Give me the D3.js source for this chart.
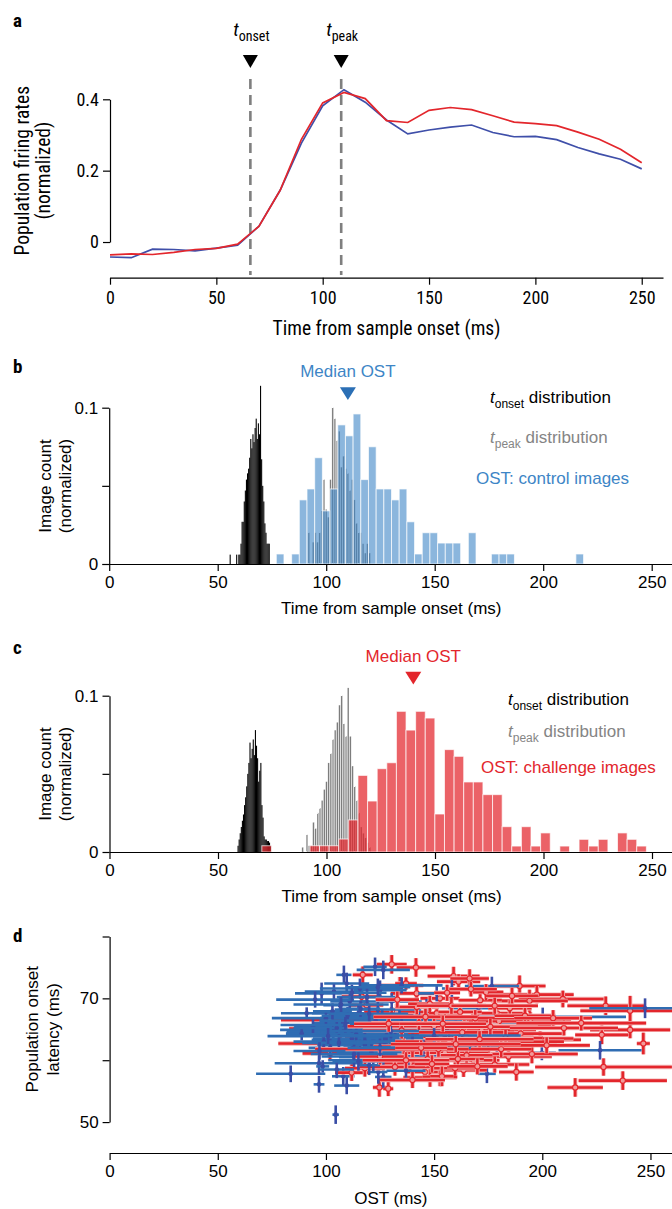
<!DOCTYPE html>
<html>
<head>
<meta charset="utf-8">
<script src="https://cdn.jsdelivr.net/npm/d3@7"></script>
<style>
  body { margin: 0; background: #fff; }
  svg { display: block; }
</style>
</head>
<body>
<svg width="672" height="1209"></svg>
<script>
// ---- panel a: population firing rates ----
const rateTimes = [0, 10, 20, 30, 40, 50, 60, 70, 80, 90, 100, 110, 120, 130, 140, 150, 160, 170, 180, 190, 200, 210, 220, 230, 240, 250];
const rateControl = [-0.042, -0.044, -0.020, -0.021, -0.025, -0.017, -0.009, 0.044, 0.145, 0.277, 0.382, 0.427, 0.392, 0.342, 0.303, 0.314, 0.322, 0.328, 0.307, 0.295, 0.296, 0.287, 0.265, 0.247, 0.232, 0.205];
const rateChallenge = [-0.036, -0.033, -0.035, -0.029, -0.021, -0.018, -0.006, 0.044, 0.145, 0.288, 0.390, 0.419, 0.402, 0.340, 0.335, 0.369, 0.377, 0.371, 0.354, 0.336, 0.332, 0.326, 0.308, 0.288, 0.260, 0.222];
const tOnset = 66;
const tPeak = 108.7;
const xTicks = [0, 50, 100, 150, 200, 250];

// ---- panel b: control images ----
const onsetStartB = 55, onsetWidth = 0.5;
const onsetB = [0, 0.006, 0, 0, 0, 0, 0, 0.006, 0, 0.006, 0.006, 0.013, 0.027, 0.027, 0.040, 0.047, 0.054, 0.058, 0.061, 0.068,
  0.080, 0.074, 0.083, 0.078, 0.087, 0.093, 0.080, 0.090, 0.083, 0.114, 0.067, 0.050, 0.040, 0.026, 0.020, 0.013, 0.013, 0.013];
const peakTimesB = [91, 92, 93, 94, 95, 96, 97, 98, 99, 100, 101, 102, 103, 104, 105, 106, 107, 108, 109, 110, 111, 112, 113, 114, 115, 116, 117, 118, 119, 120];
const peakB = [0, 0.020, 0, 0.014, 0.020, 0.014, 0.020, 0.034, 0.054, 0.035, 0.030, 0.054, 0.100, 0.093, 0.079, 0.085, 0.062, 0.069, 0.061, 0.058,
  0.047, 0.054, 0.041, 0.026, 0.020, 0.020, 0.013, 0.007, 0.013, 0.007];
const ostStartB = 77, ostWidthB = 3.54;
const ostControl = [0.0064, 0, 0.0064, 0.041, 0.048, 0.068, 0.034, 0.048, 0.089, 0.082, 0.096, 0.054, 0.075, 0.048, 0.048, 0.041, 0.048, 0.027, 0.0064, 0.020,
  0.020, 0.0134, 0.0134, 0.0134, 0, 0.020, 0, 0, 0.0064, 0.0064, 0.0064, 0, 0, 0, 0, 0, 0, 0, 0, 0.0064];
const medianControl = 110;

// ---- panel c: challenge images ----
const onsetStartC = 59;
const onsetC = [0.004, 0.008, 0.012, 0.016, 0.020, 0.024, 0.030, 0.035, 0.042, 0.050, 0.057, 0.070, 0.060, 0.066, 0.072, 0.062,
  0.078, 0.068, 0.060, 0.045, 0.052, 0.057, 0.030, 0.022, 0.010, 0.008, 0.008, 0.007, 0.007, 0.006, 0.004];
const peakTimesC = [89, 90, 91, 92, 93, 94, 95, 96, 97, 98, 99, 100, 101, 102, 103, 104, 105, 106, 107, 108, 109, 110, 111, 112, 113, 114, 115, 116, 117, 118, 119, 120];
const peakC = [0.003, 0, 0.011, 0.004, 0.004, 0.019, 0.015, 0.025, 0.028, 0.033, 0.040, 0.045, 0.057, 0.063, 0.072, 0.078, 0.083, 0.094, 0.100, 0.082,
  0.074, 0.105, 0.074, 0.055, 0.042, 0.033, 0.025, 0.016, 0.012, 0.009, 0.006, 0.003];
const ostStartC = 70.2, ostWidthC = 4.43;
const ostChallenge = [0.004, 0, 0, 0, 0, 0.004, 0.004, 0.004, 0.0083, 0.0205, 0.049, 0.0326, 0.0533, 0.0571, 0.090, 0.078, 0.090, 0.0857, 0.0243, 0.0655,
  0.0612, 0.0448, 0.0448, 0.0367, 0.0367, 0.0162, 0.0038, 0.0162, 0.0038, 0.0122, 0, 0.0038, 0, 0.0081, 0.0038, 0.0081, 0, 0.0122, 0.0081, 0.0038];
const medianChallenge = 140;

// ---- panel d: [OST, OST error, onset latency, latency error] ----
const controlPts = [
  [104.5, 1.5, 51.2, 1.5], [83.7, 16, 57.8, 1.35], [96.8, 2.5, 56.1, 1.35], [109.6, 5.8, 55.9, 1.4], [108, 5.2, 57.4, 1.5],
  [96.8, 20.5, 59.5, 1.9], [98.5, 3, 59, 1], [126.5, 3.8, 57.3, 1.75], [124.2, 4.2, 58.1, 1.9], [98, 12.3, 70.8, 1.75],
  [108.3, 3.5, 73.8, 1.5], [109.6, 10.4, 72.4, 1.75], [122.7, 5.4, 75.1, 1.5], [126.5, 12.3, 74.6, 1.5], [103.7, 13.5, 71.1, 1.2],
  [106.5, 7.7, 68.9, 1.5], [115, 21.5, 67.6, 1.35], [119.6, 22.3, 66.8, 1.1], [113.4, 28.1, 65.4, 1.5], [111.1, 32.3, 64.9, 1.5],
  [103.4, 21.6, 64.6, 1.3], [120.4, 23.1, 64.6, 1.4], [121.9, 28.5, 63.3, 1.5], [128.1, 24.6, 65.4, 1.2], [131.1, 29.2, 61.6, 1.4],
  [137.3, 29.2, 62.4, 1.4], [126.5, 28.5, 60.6, 1.35], [115.7, 16.9, 61.9, 1.6], [121.9, 20.8, 60, 1.75], [138.1, 20.8, 60.7, 1.5],
  [147.3, 15.4, 60.8, 1.35], [140.4, 17.7, 64.3, 1.3], [146.5, 12.3, 68.6, 1.3], [151.2, 8.5, 70.8, 1.3], [130.4, 13.9, 69.5, 1.35],
  [135, 18.9, 72.1, 1.3], [125, 12.3, 71.3, 1.6], [115.7, 18.5, 71.6, 1.6], [88.8, 7.3, 64.3, 1.1], [91.1, 11.9, 67.6, 0.95],
  [247.5, 25.8, 68.4, 1.6], [200.2, 38.5, 67.0, 1.5], [226.7, 19.2, 61.6, 1.5], [174.4, 4.1, 57.8, 1.5], [199.8, 6.5, 61.2, 1.2],
  [176.7, 12.5, 72, 1.5], [158.2, 4.6, 71.6, 1.35], [179, 12.3, 60.8, 1.5], [170.5, 13.9, 68.4, 1.3], [153.6, 9.2, 60.6, 1.3],
  [117, 15, 66.2, 1.3], [122, 12, 65.8, 1.2], [112, 18, 63.5, 1.4], [126, 10, 66.8, 1.4], [108, 14, 66, 1.3],
  [130, 16, 63.8, 1.3], [118, 22, 62.5, 1.5], [102, 10, 62, 1.4], [134, 8, 67.2, 1.2], [111, 9, 69.5, 1.3],
  [99, 14, 63, 1.2], [124, 20, 68.2, 1.2], [143, 22, 66.5, 1.3], [120, 5, 59.2, 1.6], [113, 7, 60.5, 1.6],
  [137, 9, 58.3, 1.4], [105, 8, 58.5, 1.4], [94, 5, 65.5, 1.3], [160, 30, 65.8, 1.2], [152, 25, 63.5, 1.2],
  [95, 18, 69.8, 1.3], [100, 25, 66.8, 1.2], [105, 20, 65.2, 1.3], [110, 12, 67.2, 1.4], [114, 24, 64.2, 1.3],
  [118, 10, 63.0, 1.5], [121, 16, 61.3, 1.4], [127, 22, 62.9, 1.3], [132, 12, 65.0, 1.2], [106, 17, 62.8, 1.4],
  [116, 9, 68.3, 1.3], [123, 26, 66.4, 1.2], [109, 30, 65.7, 1.3], [119, 14, 70.2, 1.4], [103, 9, 67.9, 1.3],
  [128, 18, 64.0, 1.3], [113, 20, 61.0, 1.5], [97, 12, 61.5, 1.4], [135, 24, 65.9, 1.2], [125, 8, 62.1, 1.4],
  [140, 26, 63.0, 1.3], [112, 16, 70.9, 1.3], [130, 30, 64.7, 1.2], [107, 22, 69.0, 1.2], [120, 18, 67.5, 1.3],
  [101, 28, 63.9, 1.3], [145, 35, 62.0, 1.3], [150, 40, 64.0, 1.2], [115, 12, 59.8, 1.5], [124, 15, 71.8, 1.4]
];
const challengePts = [
  [130.4, 6.9, 75.5, 1.5], [141.6, 8.9, 75.0, 1.5], [117, 4.6, 73.8, 1.35], [134.2, 10.8, 72.1, 1.35], [137, 5, 72.4, 1],
  [111.9, 7.7, 58.0, 1.35], [124.7, 3, 55.6, 1.5], [128.8, 2.3, 55.4, 1.2], [101.9, 12.7, 61.1, 1.2], [138.8, 13, 59.5, 1.5],
  [145.8, 9, 58.1, 1.3], [148.1, 12.3, 57.2, 1.5], [152.7, 8, 57.3, 1.5], [116.5, 9.2, 70.3, 1.2], [118.8, 7.7, 68.9, 1.2],
  [101.9, 22.7, 66.5, 1.2], [98.8, 15.8, 65.1, 1.1], [106.5, 21.6, 64.1, 1.2], [98.8, 20.8, 62.7, 1.2], [114.2, 15.4, 62.7, 1.2],
  [129.6, 20.8, 63.5, 1.3], [146.5, 13.9, 63.3, 1.3], [145, 14, 65.4, 1.3], [151.2, 10, 67.6, 1.3], [132.7, 15, 67.8, 1.3],
  [152.7, 9, 70, 1.2], [141.9, 12, 70.8, 1.3], [118, 9.2, 58.7, 1.35], [131.9, 16.2, 58.9, 1.4], [138.8, 12, 61.4, 1.3],
  [130.4, 10, 67.3, 1.3], [159, 12, 73.6, 1.5], [161.3, 10, 72.7, 1.2], [166.4, 8.9, 73.2, 1.5], [189.5, 12, 72, 1.7],
  [197.5, 17, 70.6, 1.4], [209.5, 20.4, 69.9, 1.35], [194.1, 17.7, 69.6, 1.8], [229.3, 17.7, 68.8, 1.5], [240.6, 23, 68, 2.4],
  [240.6, 18.5, 64.9, 1.35], [227.5, 12.3, 64.1, 1.5], [246.7, 3, 62.7, 1.75], [228.3, 31.6, 58.9, 1.4], [237.2, 20.4, 56.7, 1.5],
  [215.2, 12.8, 55.6, 1.5], [194.4, 18.9, 66.2, 1.6], [189, 15.8, 65.7, 1.2], [195.2, 22.7, 63.3, 1.5], [199, 15.4, 63.5, 1.2],
  [184.4, 20, 60.6, 1.35], [195.2, 21.2, 61, 1.5], [189, 17.7, 62.7, 1.2], [175.9, 19.2, 64.1, 1.2], [179, 12, 67.6, 1.3],
  [171.3, 10, 69.7, 1.3], [163.6, 10.8, 58.4, 1.1], [159.7, 10, 58.7, 1.2], [153.6, 5.4, 57.4, 1.6], [168.2, 12, 60, 1.2],
  [175.1, 10, 62.4, 1.2], [185.1, 12, 64.9, 1.2], [155, 15, 66.5, 1.3], [160, 18, 65, 1.3], [165, 14, 63.8, 1.3],
  [170, 20, 66, 1.3], [158, 12, 62.8, 1.3], [150, 16, 64.2, 1.3], [162, 10, 67.8, 1.3], [172, 15, 64.8, 1.3],
  [180, 14, 66.3, 1.3], [168, 22, 62, 1.3], [155, 20, 61.2, 1.3], [147, 18, 60.2, 1.3], [178, 16, 59.3, 1.3],
  [165, 12, 60.8, 1.2], [185, 10, 68.4, 1.3], [174, 8, 71, 1.3], [186, 12, 70.4, 1.3], [142, 10, 68.6, 1.2],
  [153, 8, 63.8, 1.2], [190, 20, 64.3, 1.2], [136, 14, 62.2, 1.3], [164, 16, 65.6, 1.3], [148, 10, 69.1, 1.3],
  [125, 12, 60.6, 1.3], [140, 15, 56.8, 1.3], [140, 45, 61.8, 1.3], [150, 40, 65.5, 1.3], [175, 35, 63, 1.3],
  [135, 18, 64.8, 1.3], [143, 22, 66.0, 1.3], [157, 25, 63.0, 1.3], [163, 20, 64.5, 1.2], [169, 18, 66.8, 1.3],
  [176, 22, 65.4, 1.3], [183, 17, 63.6, 1.3], [152, 14, 61.8, 1.3], [161, 12, 60.2, 1.3], [170, 14, 59.0, 1.3],
  [144, 12, 62.0, 1.2], [129, 16, 65.9, 1.3], [137, 20, 60.0, 1.3], [158, 16, 68.8, 1.3], [167, 12, 71.5, 1.2],
  [181, 14, 61.8, 1.3], [192, 14, 67.2, 1.3], [205, 18, 66.8, 1.3], [210, 25, 65.2, 1.2], [218, 30, 66.0, 1.2],
  [202, 20, 62.4, 1.3], [146, 24, 67.0, 1.3], [154, 20, 65.9, 1.3], [171, 25, 63.4, 1.3], [160, 30, 62.6, 1.3],
  [178, 20, 68.8, 1.3], [149, 8, 59.4, 1.4], [156, 6, 70.9, 1.3], [133, 10, 69.8, 1.3], [188, 8, 58.1, 1.4]
];

const FONT = '"Liberation Sans", Arial, Helvetica, sans-serif';
const NARROW = '"Roboto Condensed", "Liberation Sans", sans-serif';
const BLUE_LINE = '#3f4fa9', RED = '#e3262c', BLUE = '#3d85c6', BLUE_DARK = '#2b6fb5', GREY = '#858585';

const svg = d3.select('svg');

function styleAxis(g, font, size) {
  g.attr('font-family', font).attr('font-size', size);
  g.selectAll('path.domain').attr('stroke', '#000').attr('stroke-width', 1.2);
  g.selectAll('.tick line').attr('stroke', '#000').attr('stroke-width', 1.2);
  g.selectAll('.tick text').attr('fill', '#000');
}

function panelLabel(x, y, txt) {
  svg.append('text').attr('x', x).attr('y', y)
    .attr('font-family', NARROW).attr('font-weight', 'bold').attr('font-size', 19)
    .text(txt);
}

function yTitle(x1, x2, cy, l1, l2, font, size) {
  [[x1, l1], [x2, l2]].forEach(function(d) {
    svg.append('text')
      .attr('transform', 'translate(' + d[0] + ',' + cy + ') rotate(-90)')
      .attr('text-anchor', 'middle')
      .attr('font-family', font).attr('font-size', size)
      .text(d[1]);
  });
}

// label like "t_onset distribution"
function subLabel(g, x, y, sub, rest, color, size, subSize, anchor) {
  const t = g.append('text').attr('x', x).attr('y', y)
    .attr('fill', color).attr('font-size', size)
    .attr('text-anchor', anchor || 'start');
  t.append('tspan').attr('font-style', 'italic').text('t');
  t.append('tspan').attr('font-size', subSize).attr('dy', 5).text(sub);
  if (rest) t.append('tspan').attr('dy', -5).text(rest);
  return t;
}

function drawHist(g, x, y, starts, width, values, fill, opts) {
  const data = values.map(function(v, i) { return { x0: starts[i], v: v }; }).filter(function(d) { return d.v > 0; });
  g.append('g').selectAll('rect')
    .data(data)
    .join('rect')
    .attr('x', function(d) { return x(d.x0); })
    .attr('width', function(d) { return x(d.x0 + width) - x(d.x0); })
    .attr('y', function(d) { return y(d.v); })
    .attr('height', function(d) { return y(0) - y(d.v); })
    .attr('fill', fill)
    .attr('fill-opacity', opts.opacity || 1)
    .attr('stroke', opts.stroke || 'none')
    .attr('stroke-width', opts.strokeWidth || 0)
    .attr('stroke-opacity', opts.strokeOpacity || 1);
}

function binStarts(start, width, n) {
  return d3.range(n).map(function(i) { return start + i * width; });
}

// ================= panel a =================
(function() {
  const x = d3.scaleLinear([0, 260], [110, 663]);
  const y = d3.scaleLinear([-0.1, 0.4], [277.7, 99.3]);
  const g = svg.append('g');

  const xAxis = g.append('g').attr('transform', 'translate(0,' + y(-0.1) + ')')
    .call(d3.axisBottom(x).tickValues(xTicks).tickSize(7).tickSizeOuter(0).tickPadding(7));
  styleAxis(xAxis, NARROW, 18);

  const yAxisScale = d3.scaleLinear([0, 0.4], [y(0), y(0.4)]);
  const yAxis = g.append('g').attr('transform', 'translate(' + x(0) + ',0)')
    .call(d3.axisLeft(yAxisScale).tickValues([0, 0.2, 0.4]).tickSize(7).tickSizeOuter(0).tickPadding(4)
      .tickFormat(function(d) { return d === 0 ? '0' : d.toFixed(1); }));
  styleAxis(yAxis, NARROW, 18);

  // onset / peak markers
  [[tOnset, 'onset'], [tPeak, 'peak']].forEach(function(m) {
    const cx = x(m[0]);
    g.append('line').attr('x1', cx).attr('x2', cx).attr('y1', 79).attr('y2', 275)
      .attr('stroke', '#7f7f7f').attr('stroke-width', 2.6).attr('stroke-dasharray', '10,6');
    g.append('path').attr('d', 'M' + (cx - 7.5) + ',55L' + (cx + 7.5) + ',55L' + cx + ',68Z').attr('fill', '#000');
    const lbl = g.append('g').attr('font-family', NARROW);
    subLabel(lbl, cx + 1, 36, m[1], null, '#000', 19, 14, 'middle');
  });

  const line = d3.line().x(function(d) { return x(d[0]); }).y(function(d) { return y(d[1]); });
  g.append('path').datum(rateTimes.map(function(t, i) { return [t, rateControl[i]]; }))
    .attr('d', line).attr('fill', 'none').attr('stroke', BLUE_LINE).attr('stroke-width', 1.7);
  g.append('path').datum(rateTimes.map(function(t, i) { return [t, rateChallenge[i]]; }))
    .attr('d', line).attr('fill', 'none').attr('stroke', RED).attr('stroke-width', 1.7);

  g.append('text').attr('x', x(130)).attr('y', 335).attr('text-anchor', 'middle')
    .attr('font-family', NARROW).attr('font-size', 19.5).text('Time from sample onset (ms)');
  yTitle(29, 50, (y(0) + y(0.4)) / 2, 'Population firing rates', '(normalized)', NARROW, 19.5);
  panelLabel(13, 27, 'a');
})();

// ================= panels b and c =================
function histPanel(cfg) {
  const x = d3.scaleLinear([0, 260], [cfg.x0, cfg.x0 + 260 * cfg.pxPerMs]);
  const y = d3.scaleLinear([0, 0.1], [cfg.y0, cfg.y0 - 156.3]);
  const g = svg.append('g').attr('font-family', FONT);

  drawHist(g, x, y, binStarts(cfg.onsetStart, onsetWidth, cfg.onset.length), onsetWidth, cfg.onset, '#000', {});
  drawHist(g, x, y, cfg.peakTimes.map(function(t) { return t - 0.37; }), 0.74, cfg.peak, '#7d7d7d',
    { stroke: '#fff', strokeWidth: 0.25 });
  drawHist(g, x, y, binStarts(cfg.ostStart, cfg.ostWidth, cfg.ost.length), cfg.ostWidth, cfg.ost, cfg.color,
    { opacity: cfg.opacity, stroke: '#fff', strokeWidth: 1, strokeOpacity: 0.7 });

  const xAxis = g.append('g').attr('transform', 'translate(0,' + cfg.y0 + ')')
    .call(d3.axisBottom(x).tickValues(xTicks).tickSize(7).tickSizeOuter(0).tickPadding(5));
  styleAxis(xAxis, FONT, 17);
  const yAxis = g.append('g').attr('transform', 'translate(' + cfg.x0 + ',0)')
    .call(d3.axisLeft(y).tickValues([0, 0.05, 0.1]).tickSize(7).tickSizeOuter(0).tickPadding(4)
      .tickFormat(function(d) { return d === 0 ? '0' : (d === 0.1 ? '0.1' : ''); }));
  styleAxis(yAxis, FONT, 17);

  // median marker
  const mx = x(cfg.median);
  g.append('path').attr('d', 'M' + (mx - 8) + ',' + cfg.triTop + 'L' + (mx + 8) + ',' + cfg.triTop + 'L' + mx + ',' + (cfg.triTop + 12.7) + 'Z')
    .attr('fill', cfg.triColor);
  g.append('text').attr('x', mx).attr('y', cfg.triTop - 10).attr('text-anchor', 'middle')
    .attr('fill', cfg.color).attr('font-size', 17).text('Median OST');

  // legend
  subLabel(g, cfg.legX, cfg.legY[0], 'onset', ' distribution', '#000', 17, 12);
  subLabel(g, cfg.legX, cfg.legY[1], 'peak', ' distribution', GREY, 17, 12);
  g.append('text').attr('x', cfg.ostLegX).attr('y', cfg.legY[2]).attr('fill', cfg.color)
    .attr('font-size', 17).text(cfg.ostLabel);

  g.append('text').attr('x', x(130)).attr('y', cfg.y0 + 50).attr('text-anchor', 'middle')
    .attr('font-size', 17).text('Time from sample onset (ms)');
  yTitle(51, 71, cfg.y0 - 78, 'Image count', '(normalized)', FONT, 17);
  panelLabel(13, cfg.labelY, cfg.label);
}

histPanel({
  x0: 109.2, pxPerMs: 2.17, y0: 564,
  onsetStart: onsetStartB, onset: onsetB, peakTimes: peakTimesB, peak: peakB,
  ostStart: ostStartB, ostWidth: ostWidthB, ost: ostControl,
  color: BLUE, opacity: 0.6, triColor: BLUE_DARK, median: medianControl, triTop: 387.3,
  legX: 490, ostLegX: 476, legY: [403, 442.5, 484], ostLabel: 'OST: control images',
  label: 'b', labelY: 373
});

histPanel({
  x0: 109.5, pxPerMs: 2.17, y0: 852,
  onsetStart: onsetStartC, onset: onsetC, peakTimes: peakTimesC, peak: peakC,
  ostStart: ostStartC, ostWidth: ostWidthC, ost: ostChallenge,
  color: RED, opacity: 0.72, triColor: RED, median: medianChallenge, triTop: 671.7,
  legX: 508, ostLegX: 481, legY: [705, 736.5, 773], ostLabel: 'OST: challenge images',
  label: 'c', labelY: 654
});

// ================= panel d =================
(function() {
  const x = d3.scaleLinear([0, 260], [109.6, 672.1]);
  const y = d3.scaleLinear([45, 80], [1153, 936.5]);
  const g = svg.append('g').attr('font-family', FONT);

  const styles = {
    challenge: { h: RED, v: RED, halo: '#f4b3b3', r: 2.6, fill: '#f29a9a', stroke: RED },
    control: { h: '#2f6db3', v: '#3a4ea6', halo: null, r: 2.3, fill: '#3a4ea6', stroke: 'none' }
  };

  // images from both sets are plotted interleaved, so neither colour sits fully on top
  const n = Math.max(controlPts.length, challengePts.length);
  const pts = [];
  for (let i = 0; i < n; ++i) {
    if (challengePts[i]) pts.push({ d: challengePts[i], s: styles.challenge });
    if (controlPts[i]) pts.push({ d: controlPts[i], s: styles.control });
  }

  const groups = g.append('g').selectAll('g').data(pts).join('g');
  groups.each(function(p) {
    const el = d3.select(this), d = p.d, s = p.s;
    const cx = x(d[0]), cy = y(d[2]);
    if (s.halo) {
      el.append('line').attr('x1', x(d[0] - d[1])).attr('x2', x(d[0] + d[1])).attr('y1', cy).attr('y2', cy)
        .attr('stroke', s.halo).attr('stroke-width', 4.4);
      el.append('line').attr('x1', cx).attr('x2', cx).attr('y1', y(d[2] - d[3])).attr('y2', y(d[2] + d[3]))
        .attr('stroke', s.halo).attr('stroke-width', 4.4);
    }
    el.append('line').attr('x1', x(d[0] - d[1])).attr('x2', x(d[0] + d[1])).attr('y1', cy).attr('y2', cy)
      .attr('stroke', s.h).attr('stroke-width', 2.6);
    el.append('line').attr('x1', cx).attr('x2', cx).attr('y1', y(d[2] - d[3])).attr('y2', y(d[2] + d[3]))
      .attr('stroke', s.v).attr('stroke-width', 2.6);
    el.append('circle').attr('cx', cx).attr('cy', cy).attr('r', s.r)
      .attr('fill', s.fill).attr('stroke', s.stroke).attr('stroke-width', 1.1);
  });

  const xAxis = g.append('g').attr('transform', 'translate(0,1153)')
    .call(d3.axisBottom(x).tickValues(xTicks).tickSize(7).tickSizeOuter(0).tickPadding(5));
  styleAxis(xAxis, FONT, 17);
  const yAxisScale = d3.scaleLinear([50, 80], [y(50), y(80)]);
  const yAxis = g.append('g').attr('transform', 'translate(' + x(0) + ',0)')
    .call(d3.axisLeft(yAxisScale).tickValues([50, 60, 70, 80]).tickSize(7).tickSizeOuter(0).tickPadding(4)
      .tickFormat(function(d) { return (d === 50 || d === 70) ? d : ''; }));
  styleAxis(yAxis, FONT, 17);

  g.append('text').attr('x', x(130)).attr('y', 1204).attr('text-anchor', 'middle')
    .attr('font-size', 17).text('OST (ms)');
  yTitle(38, 59, (y(50) + y(80)) / 2, 'Population onset', 'latency (ms)', FONT, 17);
  panelLabel(13, 942, 'd');
})();
</script>
</body>
</html>
